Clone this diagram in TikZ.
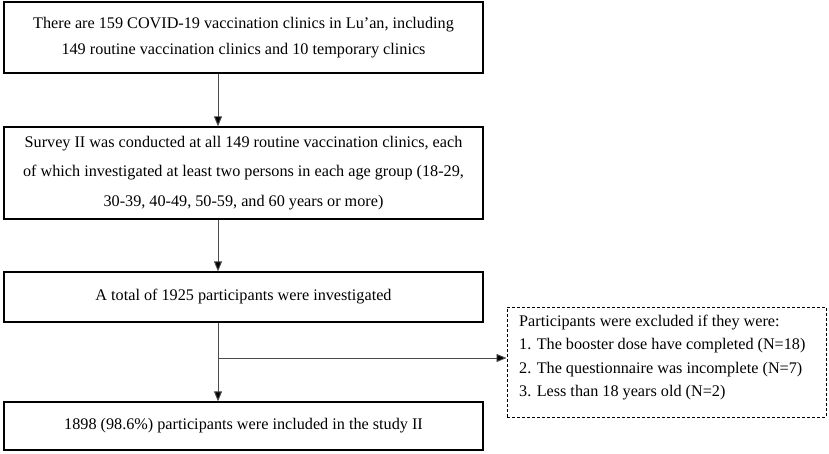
\documentclass[tikz,border=0pt]{standalone}
\usepackage{fontspec}
\setmainfont{Liberation Serif}
\usetikzlibrary{arrows.meta}
\begin{document}
\begin{tikzpicture}[x=1pt,y=-1pt,
  mainbox/.style={draw=black,line width=1.3pt,minimum width=479pt,align=center,inner sep=0pt,
    font=\fontsize{16.2}{26}\selectfont},
  exbox/.style={draw=black,line width=1pt,dashed,dash pattern=on 3pt off 2pt,minimum width=319pt,minimum height=110pt,inner sep=0pt},
  extext/.style={align=left,inner sep=0pt,anchor=north west,font=\fontsize{16.2}{23.3}\selectfont},
  flow/.style={draw=black!70,line width=0.9pt,-{Triangle[width=8pt,length=10pt,fill=black]}}]
\useasboundingbox (0,0) rectangle (829,454);
\node[mainbox,minimum height=71pt] (b1) at (243.5,37.5)
  {There are 159 COVID-19 vaccination clinics in Lu’an, including\\149 routine vaccination clinics and 10 temporary clinics};
\node[mainbox,minimum height=92pt,font=\fontsize{16.2}{29.5}\selectfont] (b2) at (243.5,173)
  {Survey II was conducted at all 149 routine vaccination clinics, each\\of which investigated at least two persons in each age group (18-29,\\30-39, 40-49, 50-59, and 60 years or more)};
\node[mainbox,minimum height=50pt] (b3) at (243.5,297) {A total of 1925 participants were investigated};
\node[mainbox,minimum height=48pt] (b4) at (243.5,426) {1898 (98.6\%) participants were included in the study II};
\node[exbox] (ex) at (666.5,362) {};
\node[extext] (ext) at (519,310)
  {\strut Participants were excluded if they were:\\1. The booster dose have completed (N=18)\\2. The questionnaire was incomplete (N=7)\\3. Less than 18 years old (N=2)};
\coordinate (ax) at (218,0);
\coordinate (br) at (218,358);
\draw[flow] (b1.south -| ax) -- (b2.north -| ax);
\draw[flow] (b2.south -| ax) -- (b3.north -| ax);
\draw[flow] (b3.south -| ax) -- (b4.north -| ax);
\draw[flow] (br) -- (br -| ex.west);
\end{tikzpicture}
\end{document}
